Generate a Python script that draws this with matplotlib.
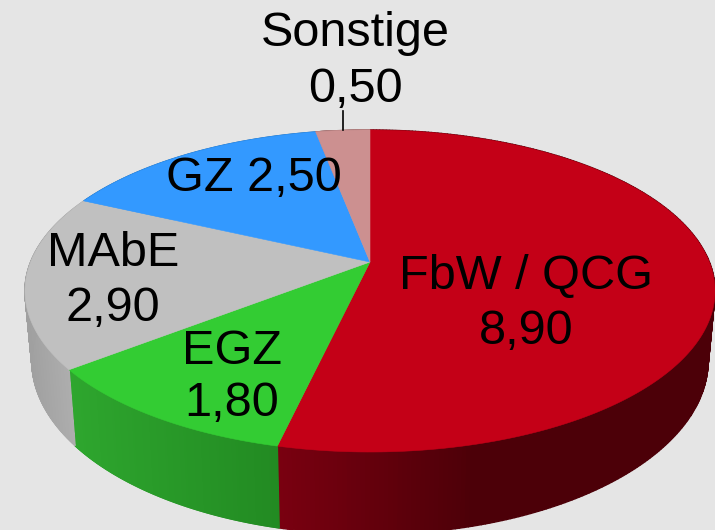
import numpy as np
import matplotlib
matplotlib.use("Agg")
import matplotlib.pyplot as plt
from matplotlib.colors import to_rgb

categories = ["FbW / QCG", "EGZ", "MAbE", "GZ", "Sonstige"]
values = [8.90, 1.80, 2.90, 2.50, 0.50]
value_labels = ["8,90", "1,80", "2,90", "2,50", "0,50"]
top_colors = ["#c40017", "#33cc33", "#c0c0c0", "#3399ff", "#cc9090"]
wall_left = ["#7a0010", "#2ea62e", "#a0a0a0", "#2a7fd0", "#a87878"]
wall_right = ["#4c0008", "#228a22", "#b4b4b4", "#2a7fd0", "#a87878"]

BG = "#e5e5e5"
CX, CY = 370.0, 262.0
A, B, K = 155.8, 339.4, 0.18
DEPTH, SHRINK = 67.5, 0.98


def project(theta, bottom=False):
    u, v = np.sin(theta), np.cos(theta)
    w = 1 + K * v
    s = SHRINK if bottom else 1.0
    d = DEPTH if bottom else 0.0
    return CX + B * s * u / w, CY - (A * v - d) / w


fig = plt.figure(figsize=(7.15, 5.3), dpi=100, facecolor=BG)
ax = fig.add_axes([0, 0, 1, 1])
ax.set_xlim(0, 715)
ax.set_ylim(530, 0)
ax.axis("off")

edges = np.concatenate([[0], np.cumsum(values)]) / np.sum(values) * 2 * np.pi

# side walls
for i in range(len(values)):
    t = np.linspace(edges[i], edges[i + 1], 300)
    xt, yt = project(t)
    xb, yb = project(t, bottom=True)
    c0, c1 = np.array(to_rgb(wall_left[i])), np.array(to_rgb(wall_right[i]))
    xmin, xmax = min(xt.min(), xb.min()), max(xt.max(), xb.max())
    span = 0.45 if i == 0 else 1.0
    for j in range(len(t) - 1):
        f = min(1.0, (0.5 * (xt[j] + xt[j + 1]) - xmin) / (xmax - xmin) / span)
        col = c0 + (c1 - c0) * f
        ax.fill([xt[j], xt[j + 1], xb[j + 1], xb[j]],
                [yt[j], yt[j + 1], yb[j + 1], yb[j]],
                facecolor=col, edgecolor=col, lw=1.0, zorder=1)

# top faces
for i in range(len(values)):
    t = np.linspace(edges[i], edges[i + 1], 200)
    x, y = project(t)
    ax.fill(np.r_[CX, x], np.r_[CY, y], facecolor=top_colors[i],
            edgecolor=top_colors[i], lw=0.4, zorder=2)

# leader line
ax.plot([343, 343], [111, 130], color="black", lw=1.2, zorder=3)

# labels
font = dict(family="Liberation Sans", fontsize=35, color="black",
            ha="center", va="baseline", zorder=4)
ax.text(526, 289, categories[0], **font)
ax.text(526, 344, value_labels[0], **font)
ax.text(232, 364, categories[1], **font)
ax.text(232, 416, value_labels[1], **font)
ax.text(113, 266, categories[2], **font)
ax.text(113, 321, value_labels[2], **font)
ax.text(254, 191, f"{categories[3]} {value_labels[3]}", **font)
ax.text(355, 46, categories[4], **font)
ax.text(355, 102, value_labels[4], **font)

fig.savefig("out.png", dpi=100, facecolor=BG)
